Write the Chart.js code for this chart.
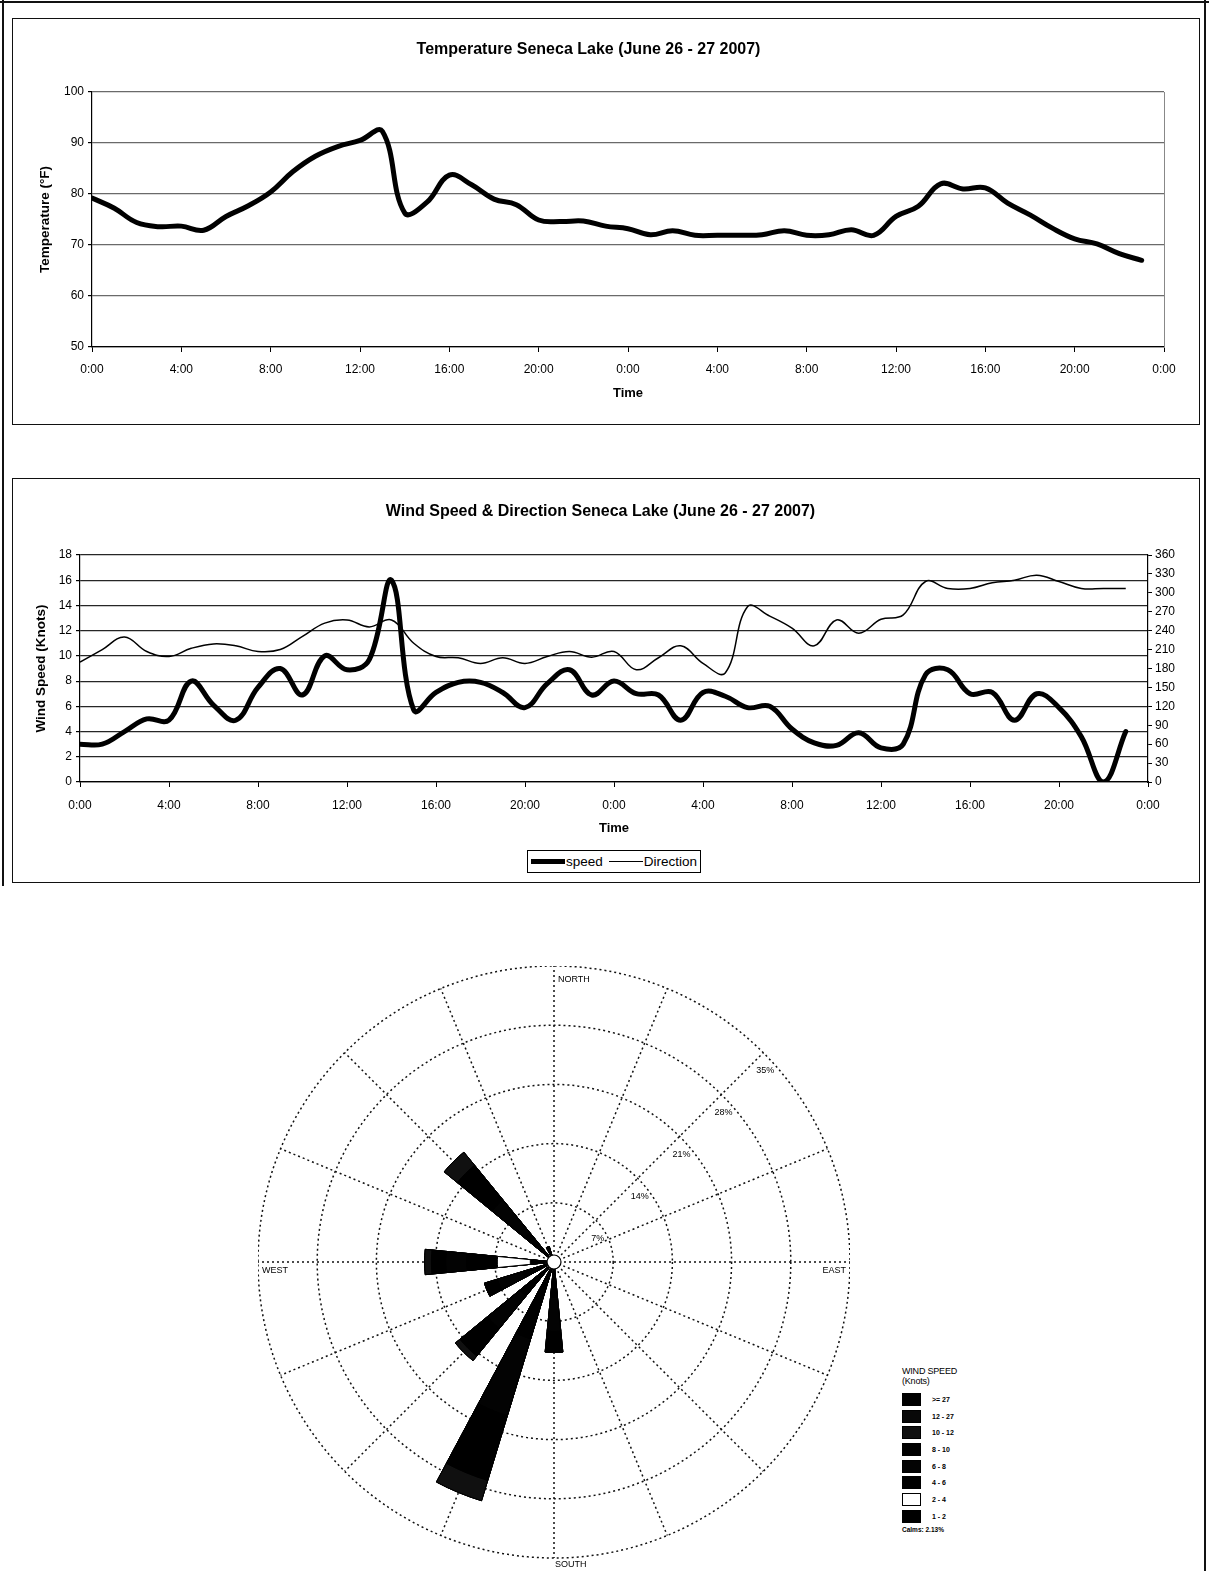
<!DOCTYPE html>
<html>
<head>
<meta charset="utf-8">
<title>Seneca Lake – Temperature and Wind, June 26 - 27 2007</title>
<script src="https://cdn.jsdelivr.net/npm/chart.js@4.4.1/dist/chart.umd.min.js"></script>
<style>
  html, body { margin: 0; padding: 0; background: #fff; }
  body { width: 1209px; height: 1571px; position: relative; overflow: hidden;
         font-family: "Liberation Sans", Arial, Helvetica, sans-serif; color: #000; }
  .rule { position: absolute; background: #111; }
  .box { position: absolute; border: 1px solid #111; box-sizing: border-box; }
  canvas { position: absolute; }
  #windLegend { position: absolute; left: 527px; top: 850px; height: 23px; border: 1px solid #000;
                box-sizing: border-box; display: flex; align-items: center; padding: 0 3px;
                font-size: 13.5px; white-space: nowrap; background: #fff; }
  #windLegend .item { display: flex; align-items: center; margin-right: 6px; }
  #windLegend .item:last-child { margin-right: 0; }
  #windLegend .swatch { width: 34px; background: #000; margin-right: 1px; }
  #roseLegend { position: absolute; left: 902px; top: 1366px; color: #000; }
  #roseLegend .head { font-size: 9px; line-height: 10px; margin-bottom: 5px; letter-spacing: -0.2px; }
  #roseLegend .row { display: flex; align-items: center; height: 16.7px; font-size: 7px; font-weight: bold; }
  #roseLegend .key { width: 19px; height: 13px; box-sizing: border-box; border: 1px solid #000; margin-right: 11px; }
  #roseLegend .calm { margin-top: 1px; font-size: 6.5px; font-weight: bold; }
</style>
</head>
<body>
<!-- page frame -->
<div class="rule" style="left:0;top:1px;width:1209px;height:2px"></div>
<div class="rule" style="left:2px;top:0;width:2px;height:886px"></div>
<div class="rule" style="left:1204px;top:0;width:2px;height:1571px"></div>

<div class="box" style="left:12px;top:18px;width:1188px;height:407px"></div>
<canvas id="tempChart" style="left:13px;top:19px" width="1185" height="405"></canvas>

<div class="box" style="left:12px;top:478px;width:1188px;height:405px"></div>
<canvas id="windChart" style="left:13px;top:479px" width="1185" height="402"></canvas>
<div id="windLegend"></div>

<canvas id="roseChart" style="left:258px;top:966px" width="592" height="605"></canvas>
<div id="roseLegend"></div>

<script>
// ---------------------------------------------------------------
// Hourly observations, June 26 0:00 through June 27 23:00
// ---------------------------------------------------------------
const hours = [0, 1, 2, 3, 4, 5, 6, 7, 8, 9, 10, 11, 12, 13, 14, 15, 16, 17, 18, 19, 20, 21, 22, 23,
               24, 25, 26, 27, 28, 29, 30, 31, 32, 33, 34, 35, 36, 37, 38, 39, 40, 41, 42, 43, 44, 45, 46, 47];

const timeTicks = ['0:00', '4:00', '8:00', '12:00', '16:00', '20:00',
                   '0:00', '4:00', '8:00', '12:00', '16:00', '20:00', '0:00'];

// air temperature, °F
const temperatureF = [79.2, 77.2, 74.4, 73.6, 73.7, 72.9, 75.6, 77.7, 80.4, 84.4, 87.4, 89.3,
                      90.5, 92.3, 76.3, 78.4, 83.7, 81.8, 79.0, 77.9, 74.9, 74.6, 74.7, 73.7,
                      73.2, 72.0, 72.8, 71.9, 71.9, 71.9, 72.0, 72.8, 71.9, 72.0, 73.0, 71.9,
                      75.6, 77.6, 82.0, 81.0, 81.2, 78.2, 75.9, 73.3, 71.2, 70.2, 68.3, 67.0];

// wind speed, knots
const windSpeedKnots = [3.0, 3.0, 4.0, 5.0, 4.9, 8.0, 6.1, 4.9, 7.5, 9.0, 6.9, 10.0,
                        8.9, 9.7, 16.0, 5.7, 7.1, 7.9, 7.9, 7.1, 5.9, 7.8, 8.9, 6.9,
                        8.0, 7.0, 6.9, 4.9, 7.1, 6.8, 5.9, 6.0, 4.2, 3.1, 2.9, 3.9,
                        2.7, 3.0, 8.5, 8.9, 7.0, 7.1, 4.9, 7.0, 5.9, 3.6, 0.0, 4.0];

// wind direction, degrees
const windDirectionDeg = [190, 210, 230, 207, 199, 212, 219, 216, 207, 210, 231, 252,
                          257, 246, 257, 220, 199, 197, 188, 197, 188, 199, 207, 198,
                          207, 178, 197, 216, 188, 173, 278, 263, 244, 216, 257, 236,
                          258, 265, 318, 307, 307, 316, 320, 328, 318, 307, 307, 307];

// ---------------------------------------------------------------
// Wind rose: frequency (%) per direction sector and speed class
// ---------------------------------------------------------------
const roseDirections = ['N', 'NNE', 'NE', 'ENE', 'E', 'ESE', 'SE', 'SSE',
                        'S', 'SSW', 'SW', 'WSW', 'W', 'WNW', 'NW', 'NNW'];
const compassLabels = ['NORTH', 'EAST', 'SOUTH', 'WEST'];
const roseSpeedClasses = ['1 - 2', '2 - 4', '4 - 6', '6 - 8', '8 - 10', '10 - 12', '12 - 27', '>= 27'];
//                N  NNE NE ENE E ESE SE SSE  S    SSW  SW   WSW  W    WNW NW   NNW
const freq1to2   = [0, 0, 0, 0, 0, 0, 0, 0, 1.0, 2.5, 1.2, 0.8, 2.8, 0, 1.0, 0.4];
const freq2to4   = [0, 0, 0, 0, 0, 0, 0, 0, 0,   0,   0,   0,   3.9, 0, 0,   0];
const freq4to6   = [0, 0, 0, 0, 0, 0, 0, 0, 3.2, 7.0, 4.0, 3.0, 3.6, 0, 3.5, 0.8];
const freq6to8   = [0, 0, 0, 0, 0, 0, 0, 0, 4.0, 9.5, 5.0, 3.2, 2.5, 0, 5.0, 0.7];
const freq8to10  = [0, 0, 0, 0, 0, 0, 0, 0, 2.5, 8.0, 4.2, 1.6, 1.7, 0, 5.3, 0];
const freq10to12 = [0, 0, 0, 0, 0, 0, 0, 0, 0,   2.5, 0.7, 0,   0.8, 0, 2.0, 0];
const freq12to27 = [0, 0, 0, 0, 0, 0, 0, 0, 0,   0,   0,   0,   0,   0, 0,   0];
const freq27up   = [0, 0, 0, 0, 0, 0, 0, 0, 0,   0,   0,   0,   0,   0, 0,   0];
const calmPercent = 2.13;
const roseRings = [7, 14, 21, 28, 35];

// ---------------------------------------------------------------
const FONT = '"Liberation Sans", Arial, Helvetica, sans-serif';
Chart.defaults.font.family = FONT;
Chart.defaults.color = '#000';
Chart.defaults.devicePixelRatio = 1;

const timeTickLabel = v => timeTicks[Math.round(v / 4)] ?? '';

// ---------------- Temperature chart ----------------
new Chart(document.getElementById('tempChart'), {
  type: 'line',
  data: {
    datasets: [{
      label: 'Temperature',
      data: hours.map((h, i) => ({ x: h, y: temperatureF[i] })),
      borderColor: '#000',
      borderWidth: 5,
      pointRadius: 0,
      tension: 0.4,
      borderCapStyle: 'round',
      borderJoinStyle: 'round',
      fill: false
    }]
  },
  options: {
    responsive: false,
    animation: false,
    events: [],
    layout: { padding: { left: 0, right: 34, top: 0, bottom: 0 } },
    plugins: {
      legend: { display: false },
      tooltip: { enabled: false },
      title: {
        display: true,
        text: 'Temperature Seneca Lake (June 26 - 27 2007)',
        font: { size: 16, weight: 'bold' },
        color: '#000',
        padding: { top: 21.4, bottom: 32.4 }
      }
    },
    scales: {
      x: {
        type: 'linear', min: 0, max: 48,
        ticks: { stepSize: 4, autoSkip: false, maxRotation: 0, callback: timeTickLabel,
                 font: { size: 12 }, color: '#000', padding: 10 },
        grid: { drawOnChartArea: false, drawTicks: true, tickLength: 5, tickColor: '#000' },
        border: { color: '#000', width: 1.2 },
        title: { display: true, text: 'Time', font: { size: 13, weight: 'bold' },
                 padding: { top: 0, bottom: 22.5 } },
        afterFit: s => { s.height = 77; }
      },
      y: {
        min: 50, max: 100,
        ticks: { stepSize: 10, font: { size: 12 }, color: '#000', padding: 4 },
        grid: { color: '#6a6a6a', lineWidth: 1.2, tickLength: 4, tickColor: '#000' },
        border: { color: '#000', width: 1.2 },
        title: { display: true, text: 'Temperature (°F)', font: { size: 13.5, weight: 'bold' },
                 padding: { top: 24, bottom: 0 } },
        afterFit: s => { s.width = 79; }
      },
      yFrame: {
        position: 'right', min: 50, max: 100,
        ticks: { display: false },
        grid: { drawOnChartArea: false, drawTicks: false },
        border: { color: '#888', width: 1 },
        afterFit: s => { s.width = 0; }
      }
    }
  }
});

// ---------------- Wind speed & direction chart ----------------
const windChart = new Chart(document.getElementById('windChart'), {
  type: 'line',
  data: {
    datasets: [{
      label: 'speed',
      yAxisID: 'y',
      data: hours.map((h, i) => ({ x: h, y: windSpeedKnots[i] })),
      borderColor: '#000',
      borderWidth: 5,
      pointRadius: 0,
      tension: 0.4,
      borderCapStyle: 'round',
      borderJoinStyle: 'round'
    }, {
      label: 'Direction',
      yAxisID: 'y1',
      data: hours.map((h, i) => ({ x: h, y: windDirectionDeg[i] })),
      borderColor: '#000',
      borderWidth: 1.5,
      pointRadius: 0,
      tension: 0.4
    }]
  },
  options: {
    responsive: false,
    animation: false,
    events: [],
    layout: { padding: { left: 0, right: 10, top: 0, bottom: 0 } },
    plugins: {
      legend: { display: false },
      tooltip: { enabled: false },
      title: {
        display: true,
        text: 'Wind Speed & Direction Seneca Lake (June 26 - 27 2007)',
        font: { size: 16, weight: 'bold' },
        color: '#000',
        padding: { top: 23.4, bottom: 33.4 }
      }
    },
    scales: {
      x: {
        type: 'linear', min: 0, max: 48,
        ticks: { stepSize: 4, autoSkip: false, maxRotation: 0, callback: timeTickLabel,
                 font: { size: 12 }, color: '#000', padding: 11 },
        grid: { drawOnChartArea: false, drawTicks: true, tickLength: 5, tickColor: '#000' },
        border: { color: '#000', width: 1.2 },
        title: { display: true, text: 'Time', font: { size: 13, weight: 'bold' },
                 padding: { top: 0, bottom: 44.5 } },
        afterFit: s => { s.height = 99; }
      },
      y: {
        min: 0, max: 18,
        ticks: { stepSize: 2, font: { size: 12 }, color: '#000', padding: 4 },
        grid: { color: '#262626', lineWidth: 1.2, tickLength: 4, tickColor: '#000' },
        border: { color: '#000', width: 1.2 },
        title: { display: true, text: 'Wind Speed (Knots)', font: { size: 13.5, weight: 'bold' },
                 padding: { top: 20, bottom: 0 } },
        afterFit: s => { s.width = 67; }
      },
      y1: {
        position: 'right', min: 0, max: 360,
        ticks: { stepSize: 30, font: { size: 12 }, color: '#000', padding: 3 },
        grid: { drawOnChartArea: false, tickLength: 4, tickColor: '#000' },
        border: { color: '#000', width: 1.2 },
        afterFit: s => { s.width = 40; }
      }
    }
  }
});

// legend box under the wind chart, built from the chart's datasets
(function buildWindLegend() {
  const box = document.getElementById('windLegend');
  windChart.data.datasets.forEach(ds => {
    const item = document.createElement('div');
    item.className = 'item';
    const sw = document.createElement('span');
    sw.className = 'swatch';
    sw.style.height = ds.borderWidth + 'px';
    const txt = document.createElement('span');
    txt.textContent = ds.label;
    item.appendChild(sw);
    item.appendChild(txt);
    box.appendChild(item);
  });
})();

// ---------------- Wind rose ----------------
const classFreqs = [freq1to2, freq2to4, freq4to6, freq6to8, freq8to10, freq10to12, freq12to27, freq27up];
const classColors = ['#000000', '#ffffff', '#000000', '#030303', '#000000', '#101010', '#080808', '#000000'];

// cumulative frequency per direction: inner classes on top of outer ones
const cumulative = classFreqs.map((_, k) =>
  roseDirections.map((_, d) => classFreqs.slice(0, k + 1).reduce((s, arr) => s + arr[d], 0)));

// two slots per sector: the wedge, then an empty gap
const slotLabels = roseDirections.flatMap(d => [d, '']);
const slotData = cumulative.map(vals => vals.flatMap(v => [v, 0]));

const roseDecor = {
  id: 'roseDecor',
  beforeDatasetsDraw(chart) {
    const s = chart.scales.r, ctx = chart.ctx;
    const R = s.getDistanceFromCenterForValue(s.max);
    ctx.save();
    ctx.strokeStyle = '#111';
    ctx.lineWidth = 1.5;
    ctx.setLineDash([2, 3]);
    roseDirections.forEach((_, i) => {
      const a = i * Math.PI / 8;
      ctx.beginPath();
      ctx.moveTo(s.xCenter, s.yCenter);
      ctx.lineTo(s.xCenter + R * Math.sin(a), s.yCenter - R * Math.cos(a));
      ctx.stroke();
    });
    ctx.restore();
  },
  afterDatasetsDraw(chart) {
    const s = chart.scales.r, ctx = chart.ctx;
    const cx = s.xCenter, cy = s.yCenter;
    const R = s.getDistanceFromCenterForValue(s.max);
    ctx.save();
    // calm circle
    ctx.beginPath();
    ctx.arc(cx, cy, 7, 0, Math.PI * 2);
    ctx.fillStyle = '#fff';
    ctx.fill();
    ctx.lineWidth = 1.2;
    ctx.strokeStyle = '#000';
    ctx.stroke();
    // ring percentages along the north-east spoke
    ctx.fillStyle = '#000';
    ctx.font = '9px ' + FONT;
    ctx.textAlign = 'center';
    ctx.textBaseline = 'middle';
    roseRings.forEach(v => {
      const r = s.getDistanceFromCenterForValue(v);
      ctx.fillText(v + '%', cx + r * Math.SQRT1_2 + 2, cy - r * Math.SQRT1_2 + 18);
    });
    // compass names
    ctx.font = '9px ' + FONT;
    ctx.textAlign = 'left';
    ctx.fillText(compassLabels[0], cx + 4, cy - R + 14);
    ctx.fillText(compassLabels[2], cx + 1, cy + R + 7);
    ctx.textAlign = 'right';
    ctx.fillText(compassLabels[1], cx + R - 4, cy + 9);
    ctx.textAlign = 'left';
    ctx.fillText(compassLabels[3], cx - R + 4, cy + 9);
    ctx.restore();
  }
};

new Chart(document.getElementById('roseChart'), {
  type: 'polarArea',
  data: {
    labels: slotLabels,
    datasets: slotData.map((data, k) => ({
      label: roseSpeedClasses[k],
      data,
      backgroundColor: classColors[k],
      borderColor: '#000',
      borderWidth: c => (c.raw > 0 ? 1 : 0)
    }))
  },
  options: {
    responsive: false,
    animation: false,
    events: [],
    layout: { padding: { left: 0, right: 0, top: 0, bottom: 13 } },
    plugins: { legend: { display: false }, tooltip: { enabled: false } },
    scales: {
      r: {
        min: 0, max: 35,
        startAngle: -360 / slotLabels.length / 2,
        ticks: { display: false, stepSize: 7 },
        grid: { circular: true, color: '#111', lineWidth: 1.5 },
        border: { dash: [2, 3] },
        angleLines: { display: false },
        pointLabels: { display: false }
      }
    }
  },
  plugins: [roseDecor]
});

// speed-class key for the rose
(function buildRoseLegend() {
  const el = document.getElementById('roseLegend');
  const head = document.createElement('div');
  head.className = 'head';
  head.innerHTML = 'WIND SPEED<br>(Knots)';
  el.appendChild(head);
  for (let k = roseSpeedClasses.length - 1; k >= 0; k--) {
    const row = document.createElement('div');
    row.className = 'row';
    const key = document.createElement('span');
    key.className = 'key';
    key.style.background = classColors[k];
    const txt = document.createElement('span');
    txt.textContent = roseSpeedClasses[k];
    row.appendChild(key);
    row.appendChild(txt);
    el.appendChild(row);
  }
  const calm = document.createElement('div');
  calm.className = 'calm';
  calm.textContent = 'Calms: ' + calmPercent.toFixed(2) + '%';
  el.appendChild(calm);
})();
</script>
</body>
</html>
